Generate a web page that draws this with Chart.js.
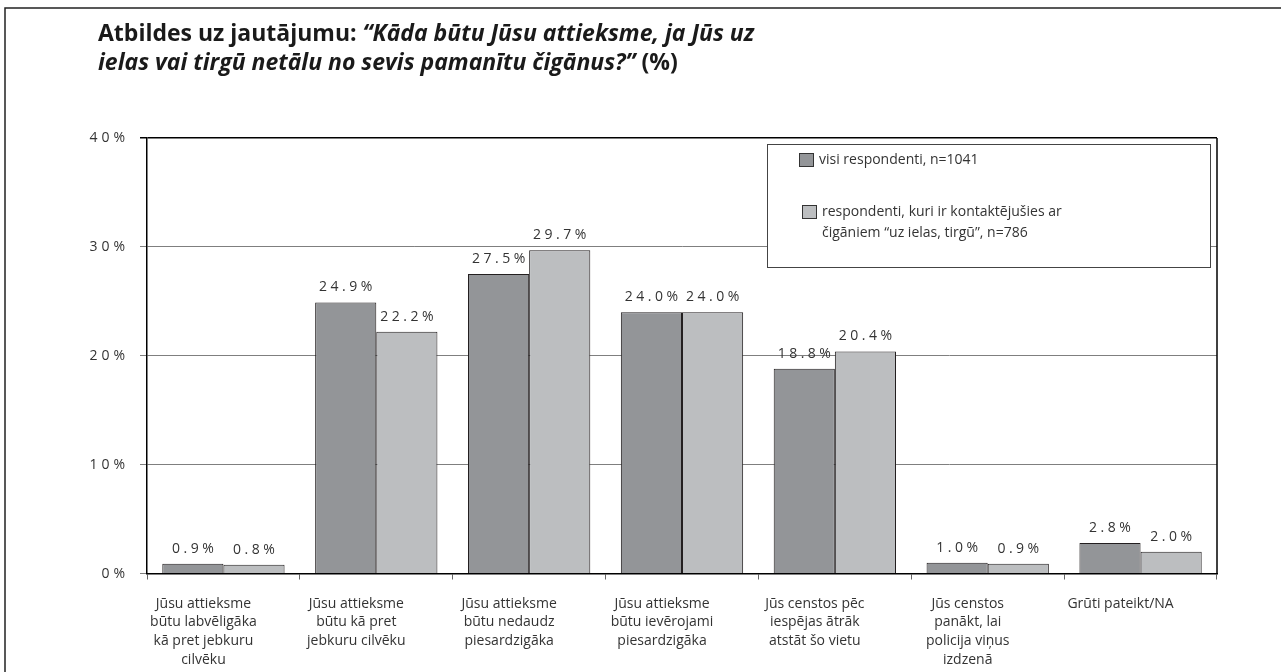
<!DOCTYPE html>
<html lang="lv">
<head>
<meta charset="utf-8">
<title>Attieksme pret čigāniem</title>
<script src="https://cdn.jsdelivr.net/npm/chart.js@4.4.0/dist/chart.umd.min.js"></script>
<style>
  html, body { margin: 0; padding: 0; background: #fff; }
  #wrap { position: relative; width: 1281px; height: 672px; }
</style>
</head>
<body>
<div id="wrap"><canvas id="attieksmeChart"></canvas></div>
<script>
// Kategorijas (x ass), katra rinda atsevišķi
const categories = [
  ['Jūsu attieksme', 'būtu labvēligāka', 'kā pret jebkuru', 'cilvēku'],
  ['Jūsu attieksme', 'būtu kā pret', 'jebkuru cilvēku'],
  ['Jūsu attieksme', 'būtu nedaudz', 'piesardzigāka'],
  ['Jūsu attieksme', 'būtu ievērojami', 'piesardzigāka'],
  ['Jūs censtos pēc', 'iespējas ātrāk', 'atstāt šo vietu'],
  ['Jūs censtos', 'panākt, lai', 'policija viņus', 'izdzenā'],
  ['Grūti pateikt/NA']
];

// Vērtības (%)
const seriesAll = [0.9, 24.9, 27.5, 24.0, 18.8, 1.0, 2.8];
const seriesContact = [0.8, 22.2, 29.7, 24.0, 20.4, 0.9, 2.0];

// Leģendas teksti
const legendAll = ['visi respondenti, n=1041'];
const legendContact = ['respondenti, kuri ir kontaktējušies ar', 'čigāniem “uz ielas, tirgū”, n=786'];

// Y ass iedaļas
const yTicks = [0, 10, 20, 30, 40];

// Virsraksts: [teksts, slīpraksts?]
const titleLine1 = [['Atbildes uz jautājumu: ', false], ['“Kāda būtu Jūsu attieksme, ja Jūs uz', true]];
const titleLine2 = [['ielas vai tirgū netālu no sevis pamanītu čigānus?”', true], [' (%)', false]];

const darkGrey = '#939598';
const lightGrey = '#bcbec0';
const textColor = '#333333';
const fontName = '"Open Sans", "DejaVu Sans", sans-serif';

// Rāmis un virsraksts
const framePlugin = {
  id: 'framePlugin',
  beforeDraw(chart) {
    const ctx = chart.ctx;
    ctx.save();
    ctx.fillStyle = '#fff';
    ctx.fillRect(0, 0, chart.width, chart.height);
    ctx.strokeStyle = '#222';
    ctx.lineWidth = 1.5;
    ctx.beginPath();
    ctx.moveTo(5, chart.height);
    ctx.lineTo(5, 8);
    ctx.lineTo(chart.width, 8);
    ctx.stroke();

    ctx.fillStyle = '#1a1a1a';
    ctx.textBaseline = 'middle';
    [[titleLine1, 34], [titleLine2, 63]].forEach(([parts, y]) => {
      let x = 98;
      parts.forEach(([txt, italic]) => {
        ctx.font = (italic ? 'italic ' : '') + 'bold 23px ' + fontName;
        ctx.fillText(txt, x, y);
        x += ctx.measureText(txt).width;
      });
    });
    ctx.restore();
  }
};

// Y ass iedaļu teksti ar retinātu burtu atstarpi
const yLabelsPlugin = {
  id: 'yLabelsPlugin',
  afterDraw(chart) {
    const ctx = chart.ctx;
    const y = chart.scales.y;
    ctx.save();
    ctx.font = '14px ' + fontName;
    ctx.letterSpacing = '4px';
    ctx.fillStyle = textColor;
    ctx.textAlign = 'right';
    ctx.textBaseline = 'middle';
    yTicks.forEach(v => {
      ctx.fillText(v + '%', 129, y.getPixelForValue(v));
    });
    ctx.restore();
  }
};

// Vērtības virs stabiņiem + labā mala
const dataLabelsPlugin = {
  id: 'dataLabelsPlugin',
  afterDatasetsDraw(chart) {
    const ctx = chart.ctx;
    const area = chart.chartArea;
    ctx.save();
    ctx.strokeStyle = '#000';
    ctx.lineWidth = 1.5;
    ctx.beginPath();
    ctx.moveTo(area.right, area.top);
    ctx.lineTo(area.right, area.bottom);
    ctx.stroke();

    ctx.font = '14px ' + fontName;
    ctx.letterSpacing = '3.5px';
    ctx.fillStyle = textColor;
    ctx.textAlign = 'center';
    ctx.textBaseline = 'bottom';
    chart.data.datasets.forEach((ds, i) => {
      chart.getDatasetMeta(i).data.forEach((bar, j) => {
        ctx.fillText(ds.data[j].toFixed(1) + '%', bar.x + 1.75, bar.y - 8);
      });
    });
    ctx.restore();
  }
};

// Leģenda rāmītī diagrammas iekšpusē
const legendBoxPlugin = {
  id: 'legendBoxPlugin',
  afterDraw(chart) {
    const ctx = chart.ctx;
    const ds = chart.data.datasets;
    ctx.save();
    ctx.fillStyle = '#fff';
    ctx.fillRect(767, 144, 443, 123);
    ctx.strokeStyle = '#444';
    ctx.lineWidth = 1;
    ctx.strokeRect(767.5, 144.5, 443, 123);

    const items = [
      { lines: legendAll, color: ds[0].backgroundColor, bx: 799, y: 160 },
      { lines: legendContact, color: ds[1].backgroundColor, bx: 802, y: 212 }
    ];
    ctx.font = '14px ' + fontName;
    ctx.textBaseline = 'middle';
    items.forEach(item => {
      ctx.fillStyle = item.color;
      ctx.fillRect(item.bx, item.y - 7, 15, 14);
      ctx.strokeStyle = '#333';
      ctx.strokeRect(item.bx + 0.5, item.y - 6.5, 14, 13);
      ctx.fillStyle = textColor;
      item.lines.forEach((line, k) => {
        ctx.fillText(line, item.bx + 20, item.y + k * 21);
      });
    });
    ctx.restore();
  }
};

new Chart(document.getElementById('attieksmeChart'), {
  type: 'bar',
  data: {
    labels: categories,
    datasets: [
      {
        label: legendAll.join(' '),
        data: seriesAll,
        backgroundColor: darkGrey,
        borderColor: '#231f20',
        borderWidth: 1,
        categoryPercentage: 0.8,
        barPercentage: 1.0
      },
      {
        label: legendContact.join(' '),
        data: seriesContact,
        backgroundColor: lightGrey,
        borderColor: '#231f20',
        borderWidth: 1,
        categoryPercentage: 0.8,
        barPercentage: 1.0
      }
    ]
  },
  options: {
    responsive: true,
    maintainAspectRatio: false,
    animation: false,
    layout: { padding: { top: 138, left: 140, right: 64, bottom: -12 } },
    plugins: {
      legend: { display: false },
      title: { display: false },
      tooltip: { enabled: false }
    },
    scales: {
      x: {
        grid: {
          drawOnChartArea: false,
          drawTicks: true,
          tickLength: 6,
          color: '#666'
        },
        border: { color: '#000', width: 1.5 },
        ticks: {
          autoSkip: false,
          maxRotation: 0,
          padding: 15,
          labelOffset: -20,
          color: textColor,
          font: { family: fontName, size: 14, lineHeight: 1.33 }
        }
      },
      y: {
        min: 0,
        max: 40,
        ticks: { stepSize: 10, display: false },
        grid: {
          color: ctx => (ctx.tick && ctx.tick.value === 40 ? '#000' : '#7f7f7f'),
          lineWidth: ctx => (ctx.tick && ctx.tick.value === 40 ? 1.5 : 1),
          tickLength: 7,
          drawTicks: true
        },
        border: { color: '#000', width: 1.5 }
      }
    }
  },
  plugins: [framePlugin, yLabelsPlugin, dataLabelsPlugin, legendBoxPlugin]
});
</script>
</body>
</html>
